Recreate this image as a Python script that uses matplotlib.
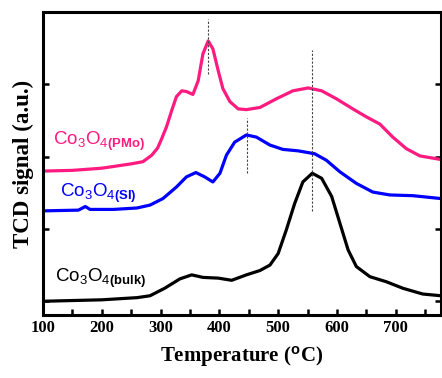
import numpy as np
import matplotlib
matplotlib.use('Agg')
import matplotlib.pyplot as plt

plt.rcParams['mathtext.fontset'] = 'custom'
plt.rcParams['mathtext.rm'] = 'Liberation Sans'
plt.rcParams['mathtext.bf'] = 'Liberation Sans:bold'
plt.rcParams['lines.solid_joinstyle'] = 'round'

# bulk
t_bulk = [100, 200, 260, 282, 307, 333, 353, 372, 398, 421, 446, 469, 486, 500, 514, 528, 542, 558, 574, 591, 605, 619, 633, 656, 684, 712, 746, 777]
v_bulk = [0.0, 0.02, 0.05, 0.076, 0.18, 0.31, 0.365, 0.33, 0.32, 0.29, 0.365, 0.425, 0.50, 0.66, 0.99, 1.35, 1.65, 1.77, 1.70, 1.45, 1.08, 0.71, 0.48, 0.34, 0.27, 0.18, 0.10, 0.076]

# SI
t_si = [100, 160, 165, 172, 180, 220, 260, 282, 304, 327, 344, 360, 375, 389, 401, 412, 426, 446, 463, 486, 508, 534, 562, 582, 605, 633, 661, 690, 729, 777]
v_si = [1.25, 1.26, 1.28, 1.31, 1.27, 1.27, 1.29, 1.33, 1.42, 1.58, 1.72, 1.78, 1.72, 1.65, 1.77, 2.02, 2.20, 2.30, 2.27, 2.16, 2.10, 2.08, 2.04, 1.95, 1.79, 1.63, 1.51, 1.47, 1.46, 1.42]

# PMo
t_pmo = [100, 150, 200, 250, 270, 285, 295, 302, 310, 319, 327, 336, 344, 355, 364, 372, 381, 389, 398, 406, 418, 432, 446, 469, 497, 525, 551, 574, 599, 627, 650, 673, 695, 718, 741, 777]
v_pmo = [1.80, 1.81, 1.84, 1.90, 1.93, 2.02, 2.12, 2.25, 2.41, 2.64, 2.83, 2.91, 2.90, 2.86, 3.05, 3.42, 3.60, 3.49, 3.19, 2.94, 2.76, 2.66, 2.65, 2.68, 2.80, 2.91, 2.95, 2.91, 2.80, 2.66, 2.55, 2.45, 2.27, 2.11, 2.01, 1.96]

# dashed peak markers: (T, y0, y1)
peak_t = [380, 447, 557]
peak_y0 = [3.14, 1.78, 1.25]
peak_y1 = [3.90, 2.54, 3.48]

fig = plt.figure(figsize=(4.42, 3.78), dpi=100)
ax = fig.add_axes([43/442, 1-315/378, 398/442, 303/378])

ax.plot(t_bulk, v_bulk, color='black', lw=2.3)
ax.plot(t_si, v_si, color='#0000ff', lw=2.3)
ax.plot(t_pmo, v_pmo, color='#ff1a80', lw=2.3)

for t, a, b in zip(peak_t, peak_y0, peak_y1):
    ax.plot([t, t], [a, b], color='#444444', lw=0.8, ls=(0, (2, 1.5)))

ax.text(117, 2.16, r'Co$_3$O$_{4\mathbf{(PMo)}}$', fontsize=13.5, color='#ff1a80', family='Liberation Sans')
ax.text(129, 1.44, r'Co$_3$O$_{4\mathbf{(SI)}}$', fontsize=13.5, color='#0000ff', family='Liberation Sans')
ax.text(120, 0.27, r'Co$_3$O$_{4\mathbf{(bulk)}}$', fontsize=13.5, color='black', family='Liberation Sans')

ax.set_xlim(100, 777)
ax.set_ylim(-0.19, 4.0)
ax.set_xticks(range(100, 701, 100))
ax.set_xticks(range(150, 751, 100), minor=True)
ax.set_yticks([0, 1, 2, 3])
ax.set_yticklabels([])
ax.tick_params(direction='in', width=1.8, length=4, which='both', right=True)
for lab in ax.get_xticklabels():
    lab.set_fontfamily('Liberation Serif')
    lab.set_fontweight('bold')
    lab.set_fontsize(12)
for s in ax.spines.values():
    s.set_linewidth(2.2)

ax.set_xlabel(r'Temperature ($\mathbf{^o}$C)', family='Liberation Serif', fontweight='bold', fontsize=15, labelpad=6)
ax.set_ylabel('TCD signal (a.u.)', family='Liberation Serif', fontweight='bold', fontsize=16.5, labelpad=3)

fig.savefig('out.png', dpi=100)
